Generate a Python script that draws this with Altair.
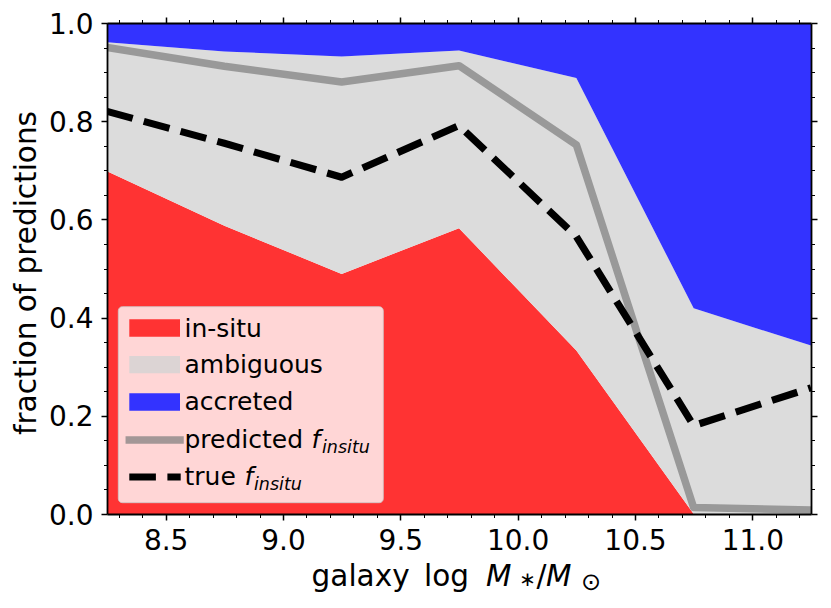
import altair as alt
import pandas as pd

FONT = "DejaVu Sans"

# ---- data ----
mass = [8.25, 8.75, 9.25, 9.75, 10.25, 10.75, 11.25]
frac_insitu = [0.698, 0.587, 0.489, 0.582, 0.333, 0.0, 0.0]
frac_ambiguous = [0.263, 0.355, 0.443, 0.362, 0.555, 0.419, 0.343]
frac_accreted = [0.039, 0.058, 0.068, 0.056, 0.112, 0.581, 0.657]
pred_finsitu = [0.950, 0.912, 0.880, 0.913, 0.752, 0.013, 0.008]
true_finsitu = [0.820, 0.755, 0.686, 0.791, 0.565, 0.180, 0.257]

x_major = [8.5, 9.0, 9.5, 10.0, 10.5, 11.0]
y_major = [0.0, 0.2, 0.4, 0.6, 0.8, 1.0]
x_minor = [v for v in [round(8.3 + 0.1 * i, 1) for i in range(30)] if v not in x_major]
y_minor = [v for v in [round(0.05 * i, 2) for i in range(1, 20)] if v not in y_major]

df = pd.DataFrame({
    "mass": mass,
    "insitu": frac_insitu,
    "ambiguous": frac_ambiguous,
    "accreted": frac_accreted,
    "pred": pred_finsitu,
    "true": true_finsitu,
})
df["lo"] = 0.0
df["b1"] = df["insitu"]
df["b2"] = df["insitu"] + df["ambiguous"]
df["b3"] = df["b2"] + df["accreted"]

xs = alt.Scale(domain=[8.25, 11.25], nice=False, zero=False)
ys = alt.Scale(domain=[0, 1], nice=False, zero=False)

common = dict(grid=False, tickColor="black", domainColor="black", title=None, zindex=1)

ax_bottom = alt.Axis(orient="bottom", values=x_major, format=".1f", labelFont=FONT,
                     labelFontSize=28, labelColor="black", labelPadding=7, tickSize=6,
                     tickWidth=1.5, domainWidth=1.8, labelFlush=False, labelOverlap=False, **common)
ax_bottom_minor = alt.Axis(orient="bottom", values=x_minor, labels=False, domain=False,
                           tickSize=3.5, tickWidth=1, **common)
ax_top = alt.Axis(orient="top", values=x_major, labels=False, tickSize=6, tickWidth=1.5,
                  domainWidth=1.8, **common)
ax_top_minor = alt.Axis(orient="top", values=x_minor, labels=False, domain=False,
                        tickSize=3.5, tickWidth=1, **common)

ay_left = alt.Axis(orient="left", values=y_major, format=".1f", labelFont=FONT,
                   labelFontSize=28, labelColor="black", labelPadding=8, labelOffset=2,
                   tickSize=6, tickWidth=1.5, domainWidth=1.8, labelFlush=False,
                   labelOverlap=False, **common)
ay_left_minor = alt.Axis(orient="left", values=y_minor, labels=False, domain=False,
                         tickSize=3.5, tickWidth=1, **common)
ay_right = alt.Axis(orient="right", values=y_major, labels=False, tickSize=6, tickWidth=1.5,
                    domainWidth=1.8, **common)
ay_right_minor = alt.Axis(orient="right", values=y_minor, labels=False, domain=False,
                          tickSize=3.5, tickWidth=1, **common)

base = alt.Chart(df)

red = base.mark_area(color="#ff3333").encode(
    x=alt.X("mass:Q", scale=xs, axis=ax_bottom),
    y=alt.Y("b1:Q", scale=ys, axis=ay_left),
    y2=alt.Y2("lo:Q"),
)
gray = base.mark_area(color="#dcdcdc").encode(
    x=alt.X("mass:Q", scale=xs, axis=ax_bottom_minor),
    y=alt.Y("b2:Q", scale=ys, axis=ay_left_minor),
    y2=alt.Y2("b1:Q"),
)
blue = base.mark_area(color="#3333ff").encode(
    x=alt.X("mass:Q", scale=xs, axis=ax_top),
    y=alt.Y("b3:Q", scale=ys, axis=ay_right),
    y2=alt.Y2("b2:Q"),
)
PRED_COLOR = "#7c7c7c"
pred = base.mark_line(color=PRED_COLOR, opacity=0.7, strokeWidth=7.5, strokeJoin="round",
                      strokeCap="square", clip=True).encode(
    x=alt.X("mass:Q", scale=xs, axis=ax_top_minor),
    y=alt.Y("pred:Q", scale=ys, axis=ay_right_minor),
)
true = base.mark_line(color="black", strokeWidth=7.2, strokeDash=[26.6, 11.5],
                      strokeCap="butt", strokeJoin="round", clip=True).encode(
    x=alt.X("mass:Q", scale=xs, axis=None),
    y=alt.Y("true:Q", scale=ys, axis=None),
)

one = alt.Data(values=[{"k": 0}])


def txt(s, x, y, size, align="left", baseline="alphabetic", **kw):
    return alt.Chart(one).mark_text(text=s, font=FONT, fontSize=size, color="black",
                                    align=align, baseline=baseline, **kw).encode(
        x=alt.value(x), y=alt.value(y))


def box(x1, x2, y1, y2, **kw):
    return alt.Chart(one).mark_rect(**kw).encode(
        x=alt.value(x1), x2=alt.value(x2), y=alt.value(y1), y2=alt.value(y2))


def hline(x1, x2, y, **kw):
    return alt.Chart(one).mark_rule(**kw).encode(
        x=alt.value(x1), x2=alt.value(x2), y=alt.value(y))


legend_labels = ["in-situ", "ambiguous", "accreted", "predicted ", "true "]
LX = 77.5
LFS = 25

legend = [
    box(11.3, 276.3, 283.7, 479.7, fill="white", fillOpacity=0.8, stroke="#cccccc",
        strokeOpacity=0.8, strokeWidth=1, cornerRadius=4),
    box(22.3, 73, 296.3, 313.7, fill="#ff3333"),
    box(22.3, 73, 333, 350.3, fill="#dcd4d4"),
    box(22.3, 73, 370.3, 387.7, fill="#3333ff"),
    hline(22.3, 73, 417, color=PRED_COLOR, opacity=0.7, strokeWidth=7.5, strokeCap="square"),
    hline(22.3, 73.7, 454, color="black", strokeWidth=7.2, strokeDash=[26.6, 11.5],
          strokeCap="butt"),
    txt(legend_labels[0], LX, 313.7, LFS),
    txt(legend_labels[1], LX, 350.3, LFS),
    txt(legend_labels[2], LX, 387.3, LFS),
    txt(legend_labels[3], LX, 424.7, LFS),
    txt("f", 204.5, 424.7, LFS, fontStyle="italic"),
    txt("insitu", 215, 429.5, 17.5, fontStyle="italic"),
    txt(legend_labels[4], LX, 462, LFS),
    txt("f", 137.5, 462, LFS, fontStyle="italic"),
    txt("insitu", 147, 467, 17.5, fontStyle="italic"),
]

TFS = 29.5
titles = [
    txt("fraction of predictions", -71.5, 250, TFS, align="center", angle=270),
    txt("galaxy", 204.6, 562.5, TFS),
    txt("log", 317, 562.5, TFS),
    txt("M", 379, 562.5, TFS, fontStyle="italic"),
    txt("\u2217", 420.5, 557, 20, align="center", baseline="middle"),
    txt("/", 434.5, 562.5, TFS, align="center"),
    txt("M", 439, 562.5, TFS, fontStyle="italic"),
    txt("\u2299", 484, 559.5, 24, align="center", baseline="middle"),
]

chart = alt.layer(red, gray, blue, pred, true, *legend, *titles).resolve_axis(
    x="independent", y="independent"
).properties(
    width=704,
    height=491,
    autosize=alt.AutoSizeParams(type="none"),
    padding={"left": 99, "top": 15, "right": 12, "bottom": 86},
).configure_view(strokeWidth=0)

chart.save("out.html", embed_options={"renderer": "svg", "actions": False})
